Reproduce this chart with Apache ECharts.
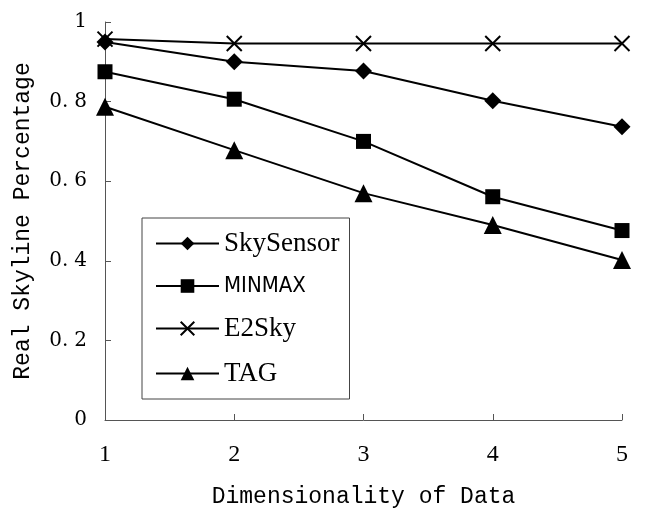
<!DOCTYPE html>
<html>
<head>
<meta charset="utf-8">
<script src="https://cdn.jsdelivr.net/npm/echarts@6/dist/echarts.min.js"></script>
<style>
  html, body { margin: 0; padding: 0; background: #fff; }
  #main { width: 650px; height: 524px; }
</style>
</head>
<body>
<div id="main"></div>
<script>
const dims = ['1', '2', '3', '4', '5'];
const yTicks = [0, 0.2, 0.4, 0.6, 0.8, 1];

const skySensor = [0.95, 0.90, 0.877, 0.802, 0.737];
const minmax = [0.875, 0.806, 0.70, 0.561, 0.476];
const e2sky = [0.957, 0.946, 0.946, 0.946, 0.946];
const tag = [0.787, 0.678, 0.570, 0.49, 0.402];

const crossPath = 'path://M0,0L10,10M10,0L0,10';
const mono = '"Liberation Mono", "DejaVu Sans Mono", monospace';
const serif = '"Liberation Serif", "DejaVu Serif", serif';
const dserif = '"DejaVu Serif", "Liberation Serif", serif';
const narrow = '"Liberation Sans Narrow", "DejaVu Sans Condensed", "Liberation Sans", sans-serif';

const lineSeries = (name, data, symbol, size, extra) => Object.assign({
  name: name,
  type: 'line',
  data: data,
  symbol: symbol,
  symbolSize: size,
  showAllSymbol: true,
  lineStyle: { color: '#000', width: 2 },
  itemStyle: { color: '#000' },
  animation: false,
}, extra || {});

const chart = echarts.init(document.getElementById('main'));
chart.setOption({
  backgroundColor: '#fff',
  grid: { left: 105, right: 28, top: 22, bottom: 104, outerBoundsMode: 'none' },
  legend: {
    orient: 'vertical',
    left: 142,
    top: 218,
    padding: [12, 10, 12, 13],
    itemWidth: 63,
    itemHeight: 17,
    itemGap: 18,
    itemTextGap: 6,
    borderColor: '#444',
    borderWidth: 1,
    backgroundColor: '#fff',
    textStyle: {
      fontFamily: serif,
      fontSize: 27,
      color: '#000',
      rich: {
        n: { fontFamily: narrow, fontSize: 22, color: '#000' },
      },
    },
    formatter: name => name === 'MINMAX' ? '{n|' + name + '}' : name,
    data: ['SkySensor', 'MINMAX', 'E2Sky', 'TAG'],
  },
  xAxis: {
    type: 'category',
    data: dims,
    boundaryGap: false,
    name: 'Dimensionality of Data',
    nameLocation: 'middle',
    nameGap: 65,
    nameTextStyle: { fontFamily: mono, fontSize: 23, color: '#000' },
    axisLine: { lineStyle: { color: '#555', width: 1 } },
    axisTick: { inside: true, length: 6, lineStyle: { color: '#555' } },
    axisLabel: { fontFamily: serif, fontSize: 24, color: '#000', margin: 23 },
    splitLine: { show: false },
  },
  yAxis: {
    type: 'value',
    min: yTicks[0],
    max: yTicks[yTicks.length - 1],
    interval: 0.2,
    name: 'Real Skyline Percentage',
    nameLocation: 'middle',
    nameGap: 71,
    nameTextStyle: { fontFamily: mono, fontSize: 23, color: '#000' },
    axisLine: { show: true, lineStyle: { color: '#555', width: 1 } },
    axisTick: { show: true, inside: true, length: 6, lineStyle: { color: '#555' } },
    axisLabel: {
      fontFamily: dserif,
      fontSize: 20,
      color: '#000',
      margin: 18,
      formatter: v => {
        if (v === 0 || v === 1) return String(v);
        const parts = v.toFixed(1).split('.');
        return '{i|' + parts[0] + '.}{f|' + parts[1] + '}';
      },
      rich: {
        i: { fontFamily: dserif, fontSize: 20, color: '#000' },
        f: { fontFamily: dserif, fontSize: 20, color: '#000', padding: [0, 0, 0, 6] },
      },
    },
    splitLine: { show: false },
  },
  series: [
    lineSeries('SkySensor', skySensor, 'diamond', 17),
    lineSeries('MINMAX', minmax, 'rect', 15),
    lineSeries('E2Sky', e2sky, crossPath, 15, {
      itemStyle: { color: 'transparent', borderColor: '#000', borderWidth: 2 },
      z: 3,
    }),
    lineSeries('TAG', tag, 'triangle', 18),
  ],
});
</script>
</body>
</html>
